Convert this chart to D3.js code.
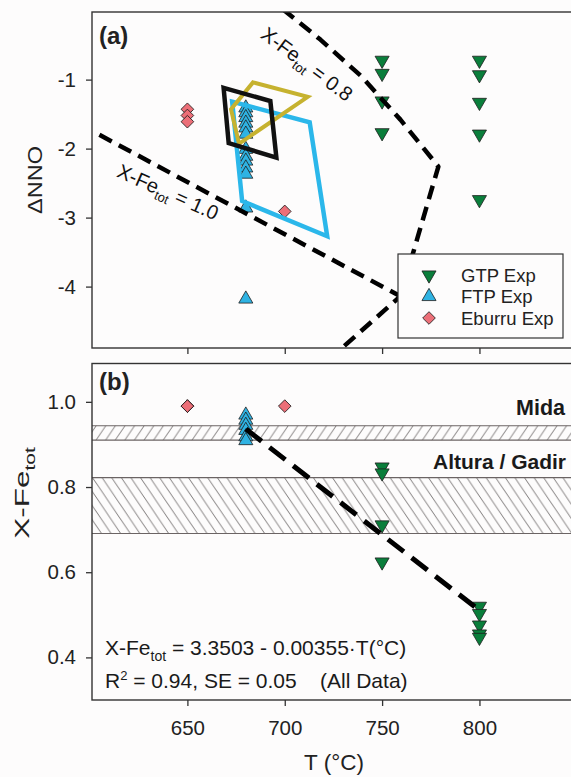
<!DOCTYPE html>
<html>
<head>
<meta charset="utf-8">
<script src="https://cdn.jsdelivr.net/npm/d3@7"></script>
<style>
  body { margin: 0; background: #fdfcfc; }
  svg { display: block; font-family: "Liberation Sans", Arial, sans-serif; }
</style>
</head>
<body>
<svg id="chart" width="571" height="777"></svg>
<script>
// ---------- data ----------
const tempTicks = [650, 700, 750, 800];
const nnoTicks = [-1, -2, -3, -4];
const xfeTicks = [0.4, 0.6, 0.8, 1.0];

// panel (a): ΔNNO vs T
const gtpTempA = [750, 750, 750, 750, 800, 800, 800, 800, 800];
const gtpNNO   = [-0.72, -0.91, -1.31, -1.77, -0.72, -0.93, -1.33, -1.79, -2.74];
const ftpTempA = [680, 680, 680, 680, 680, 680, 680, 680, 680, 680, 680, 680, 680];
const ftpNNO   = [-1.41, -1.48, -1.55, -1.63, -1.70, -1.79, -2.01, -2.11, -2.18, -2.28, -2.37, -2.86, -4.18];
const ebTempA  = [650, 650, 650, 700];
const ebNNO    = [-1.43, -1.52, -1.61, -2.91];

// natural-sample fields (T, ΔNNO vertices)
const blackFieldT   = [668.6, 692.6, 695.7, 671.2];
const blackFieldNNO = [-1.12, -1.31, -2.13, -1.92];
const oliveFieldT   = [683.7, 711.8, 676.5, 672.4];
const oliveFieldNNO = [-1.04, -1.25, -1.93, -1.43];
const cyanFieldT    = [673.0, 712.8, 721.8, 678.1];
const cyanFieldNNO  = [-1.32, -1.62, -3.27, -2.76];

// X-Fe_tot isopleths
const iso08T   = [699.0, 718.3, 738.9, 759.4, 778.9, 759.4, 727.0];
const iso08NNO = [0.02, -0.42, -0.94, -1.58, -2.26, -4.14, -4.95];
const iso10T   = [604.8, 759.4];
const iso10NNO = [-1.80, -4.14];

// panel (b): X-Fe_tot vs T
const gtpTempB = [750, 750, 750, 750, 800, 800, 800, 800, 800];
const gtpXFe   = [0.847, 0.833, 0.711, 0.624, 0.520, 0.503, 0.476, 0.455, 0.447];
const ftpTempB = [680, 680, 680, 680, 680, 680];
const ftpXFe   = [0.969, 0.957, 0.945, 0.933, 0.918, 0.909];
const ebTempB  = [650, 650, 650, 700];
const ebXFe    = [0.99, 0.99, 0.99, 0.99];

// reference bands
const bandNames = ["Mida", "Altura / Gadir"];
const bandLow   = [0.910, 0.691];
const bandHigh  = [0.944, 0.822];

// regression: X-Fe_tot = a + b*T
const fitA = 3.3503, fitB = -0.00355;
const fitRange = [680, 800];

// legend
const legendNames = ["GTP Exp", "FTP Exp", "Eburru Exp"];

// ---------- styles ----------
const C = {
  gtp: "#0a7e3b", ftp: "#2fb3e3", eb: "#ec6f78",
  outline: "#1e1e1e", axis: "#333",
  black: "#111", olive: "#c6b22f", cyan: "#2bb7ea", hatch: "#6f6a6a"
};

const svg = d3.select("#chart");
const left = 92, right = 576.8;
const topA = 12, botA = 348, topB = 363.5, botB = 700;

const x = d3.scaleLinear().domain([601, 850]).range([left, right]);
const yA = d3.scaleLinear().domain([-4.89, -0.02]).range([botA, topA]);
const yB = d3.scaleLinear().domain([0.3, 1.09]).range([botB, topB]);

const defs = svg.append("defs");
defs.append("clipPath").attr("id", "clipA").append("rect")
  .attr("x", left).attr("y", topA).attr("width", right - left).attr("height", botA - topA);
defs.append("clipPath").attr("id", "clipB").append("rect")
  .attr("x", left).attr("y", topB).attr("width", right - left).attr("height", botB - topB);

// hatch patterns
function hatch(id, forward) {
  const w = 9.6, h = 14.2;
  const p = defs.append("pattern").attr("id", id).attr("patternUnits", "userSpaceOnUse")
    .attr("width", w).attr("height", h);
  [-w, 0, w].forEach(o => {
    p.append("line")
      .attr("x1", o).attr("y1", forward ? h : 0)
      .attr("x2", o + w).attr("y2", forward ? 0 : h)
      .attr("stroke", C.hatch).attr("stroke-width", 0.9);
  });
}
hatch("hatchFwd", true);
hatch("hatchBack", false);

// ---------- markers ----------
const triSym = d3.symbol().type(d3.symbolTriangle).size(86)();
const diaSym = d3.symbol().type(d3.symbolSquare).size(80)();

function markers(g, xs, ys, yScale, kind) {
  const pts = xs.map((t, i) => [t, ys[i]]);
  g.selectAll(null).data(pts).enter().append("path")
    .attr("d", kind === "eb" ? diaSym : triSym)
    .attr("transform", d => `translate(${x(d[0])},${yScale(d[1])})` +
      (kind === "gtp" ? " rotate(180)" : kind === "eb" ? " rotate(45)" : ""))
    .attr("fill", C[kind]).attr("stroke", C.outline).attr("stroke-width", 0.8);
}

// ---------- panel (a) ----------
const gA = svg.append("g");
const plotA = gA.append("g").attr("clip-path", "url(#clipA)");

markers(plotA, ebTempA, ebNNO, yA, "eb");
markers(plotA, ftpTempA, ftpNNO, yA, "ftp");
markers(plotA, gtpTempA, gtpNNO, yA, "gtp");

function poly(g, ts, vs, color, w) {
  g.append("path")
    .attr("d", d3.line()(ts.map((t, i) => [x(t), yA(vs[i])])) + "Z")
    .attr("fill", "none").attr("stroke", color).attr("stroke-width", w)
    .attr("stroke-linejoin", "miter");
}
poly(plotA, cyanFieldT, cyanFieldNNO, C.cyan, 4.5);
poly(plotA, oliveFieldT, oliveFieldNNO, C.olive, 4);
poly(plotA, blackFieldT, blackFieldNNO, C.black, 4.5);

function dashLine(g, ts, vs, yScale, w, dash) {
  g.append("path")
    .attr("d", d3.line()(ts.map((t, i) => [x(t), yScale(vs[i])])))
    .attr("fill", "none").attr("stroke", "#000").attr("stroke-width", w)
    .attr("stroke-dasharray", dash).attr("stroke-linejoin", "round");
}
dashLine(plotA, iso08T, iso08NNO, yA, 4.5, "14,8");
dashLine(plotA, iso10T, iso10NNO, yA, 4.5, "14,8");

// isopleth labels
function isoLabel(g, cx, cy, angle, value) {
  const t = g.append("text")
    .attr("transform", `translate(${cx},${cy}) rotate(${angle})`)
    .attr("text-anchor", "middle").attr("dy", "0.35em")
    .attr("font-size", 20).attr("fill", "#111");
  t.append("tspan").text("X-Fe");
  t.append("tspan").attr("font-size", 13).attr("dy", 5).text("tot");
  t.append("tspan").attr("dy", -5).text(" = " + value);
}
isoLabel(gA, 307, 64, 37, "0.8");
isoLabel(gA, 168, 192, 24, "1.0");

// frame + axes
gA.append("rect").attr("x", left).attr("y", topA).attr("width", right - left).attr("height", botA - topA)
  .attr("fill", "none").attr("stroke", C.axis).attr("stroke-width", 1.4);

function styleAxis(sel) {
  sel.select(".domain").remove();
  sel.selectAll(".tick line").attr("stroke", C.axis).attr("stroke-width", 1.3);
  sel.selectAll(".tick text").attr("fill", "#222").attr("font-size", 20.5)
    .attr("font-family", "'Liberation Sans', Arial, sans-serif");
}
gA.append("g").attr("transform", `translate(0,${botA})`)
  .call(d3.axisBottom(x).tickValues(tempTicks).tickSize(6).tickFormat(""))
  .call(styleAxis);
gA.append("g").attr("transform", `translate(${left},0)`)
  .call(d3.axisLeft(yA).tickValues(nnoTicks).tickSize(6).tickPadding(10).tickFormat(d => String(d).replace("\u2212", "-")))
  .call(styleAxis);

gA.append("text").attr("x", 99).attr("y", 44).attr("font-size", 24).attr("font-weight", "bold")
  .attr("fill", "#222").text("(a)");

gA.append("text").attr("transform", "translate(42,180) rotate(-90) scale(1.15,1)")
  .attr("text-anchor", "middle").attr("font-size", 20.5).attr("fill", "#222").text("ΔNNO");

// legend
const lg = gA.append("g");
lg.append("rect").attr("x", 398).attr("y", 254).attr("width", 165).attr("height", 84)
  .attr("fill", "#fdfcfc").attr("stroke", C.axis).attr("stroke-width", 1.2);
const legKinds = ["gtp", "ftp", "eb"];
legendNames.forEach((name, i) => {
  const cy = 275 + i * 21.5;
  lg.append("path").attr("d", legKinds[i] === "eb" ? diaSym : triSym)
    .attr("transform", `translate(429,${cy})` + (legKinds[i] === "gtp" ? " rotate(180)" : legKinds[i] === "eb" ? " rotate(45)" : ""))
    .attr("fill", C[legKinds[i]]).attr("stroke", C.outline).attr("stroke-width", 0.8);
  lg.append("text").attr("x", 461).attr("y", cy + 6.5).attr("font-size", 18.5).attr("fill", "#222").text(name);
});

// ---------- panel (b) ----------
const gB = svg.append("g");
const plotB = gB.append("g").attr("clip-path", "url(#clipB)");

bandNames.forEach((n, i) => {
  const y1 = yB(bandHigh[i]), y2 = yB(bandLow[i]);
  plotB.append("rect").attr("x", left).attr("y", y1).attr("width", right - left).attr("height", y2 - y1)
    .attr("fill", `url(#${i === 0 ? "hatchFwd" : "hatchBack"})`);
  [y1, y2].forEach(yy => plotB.append("line").attr("x1", left).attr("x2", right)
    .attr("y1", yy).attr("y2", yy).attr("stroke", "#6b6464").attr("stroke-width", 1.1));
});

gB.append("text").attr("x", 565).attr("y", 415).attr("text-anchor", "end")
  .attr("font-size", 21.5).attr("font-weight", "bold").attr("fill", "#1a1a1a").text(bandNames[0]);
gB.append("text").attr("x", 566).attr("y", 469).attr("text-anchor", "end")
  .attr("font-size", 21).attr("font-weight", "bold").attr("fill", "#1a1a1a").text(bandNames[1]);

markers(plotB, ebTempB, ebXFe, yB, "eb");
markers(plotB, ftpTempB, ftpXFe, yB, "ftp");
markers(plotB, gtpTempB, gtpXFe, yB, "gtp");

dashLine(plotB, fitRange, fitRange.map(t => fitA + fitB * t), yB, 5, "20,10");

gB.append("rect").attr("x", left).attr("y", topB).attr("width", right - left).attr("height", botB - topB)
  .attr("fill", "none").attr("stroke", C.axis).attr("stroke-width", 1.4);

gB.append("g").attr("transform", `translate(0,${botB})`)
  .call(d3.axisBottom(x).tickValues(tempTicks).tickSize(6).tickPadding(14).tickFormat(d3.format("d")))
  .call(styleAxis);
gB.append("g").attr("transform", `translate(${left},0)`)
  .call(d3.axisLeft(yB).tickValues(xfeTicks).tickSize(6).tickPadding(10).tickFormat(d3.format(".1f")))
  .call(styleAxis);

gB.append("text").attr("x", 99).attr("y", 390).attr("font-size", 24).attr("font-weight", "bold")
  .attr("fill", "#222").text("(b)");

// regression equation
const eq1 = gB.append("text").attr("x", 105).attr("y", 655).attr("font-size", 21).attr("fill", "#1a1a1a");
eq1.append("tspan").text("X-Fe");
eq1.append("tspan").attr("font-size", 14).attr("dy", 6).text("tot");
eq1.append("tspan").attr("dy", -6).text(` = ${fitA} - ${Math.abs(fitB)}·T(°C)`);

const eq2 = gB.append("text").attr("x", 105).attr("y", 688).attr("font-size", 21).attr("fill", "#1a1a1a")
  .style("white-space", "pre");
eq2.append("tspan").text("R");
eq2.append("tspan").attr("font-size", 13).attr("dy", -8).text("2");
eq2.append("tspan").attr("dy", 8).text(" = 0.94, SE = 0.05    (All Data)");

// axis titles
const yTitleB = gB.append("text").attr("transform", "translate(29,493) rotate(-90) scale(1.5,1)")
  .attr("text-anchor", "middle").attr("font-size", 21).attr("fill", "#222");
yTitleB.append("tspan").text("X-Fe");
yTitleB.append("tspan").attr("font-size", 14).attr("dy", 6).text("tot");

svg.append("text").attr("x", 334).attr("y", 770).attr("text-anchor", "middle")
  .attr("font-size", 22.5).attr("fill", "#222").text("T (°C)");
</script>
</body>
</html>
